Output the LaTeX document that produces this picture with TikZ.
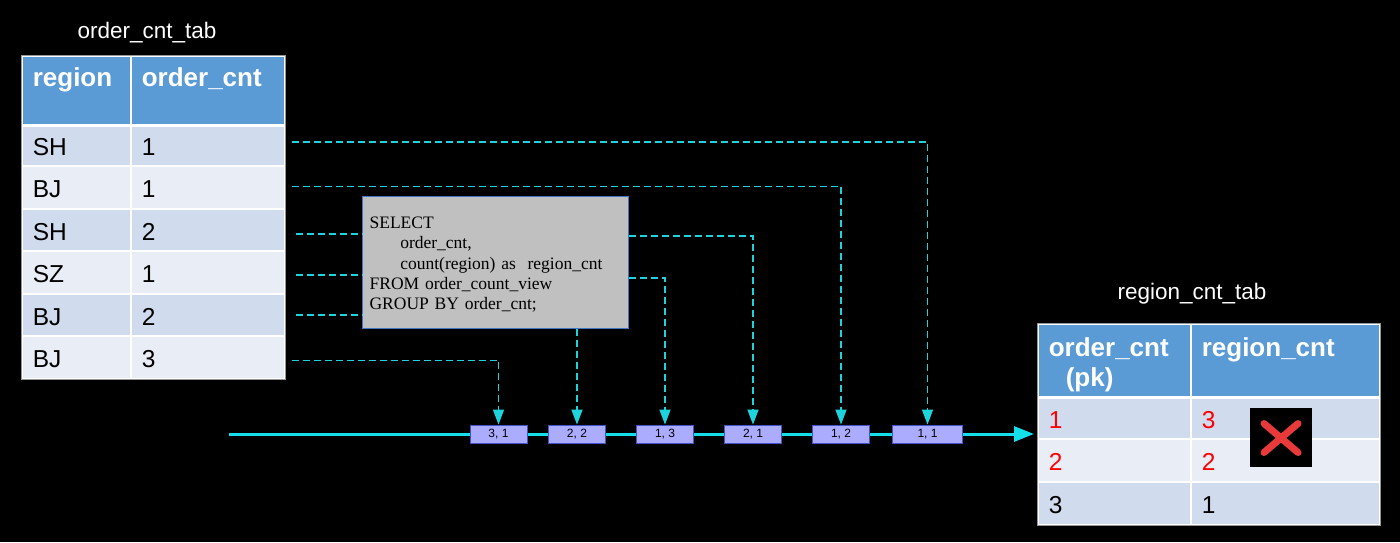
\documentclass[tikz,border=0pt]{standalone}
\usepackage{fontspec}
\setmainfont{Liberation Sans}
\newfontfamily\sqlfont{Liberation Serif}
\usetikzlibrary{arrows.meta,calc}
\definecolor{hdrblue}{RGB}{91,155,213}
\definecolor{rowdark}{RGB}{208,220,238}
\definecolor{rowlight}{RGB}{233,237,246}
\definecolor{flowcyan}{RGB}{20,222,232}
\definecolor{dashcyan}{RGB}{30,212,220}
\definecolor{sqlgray}{RGB}{192,192,192}
\definecolor{sqlborder}{RGB}{68,114,196}
\definecolor{evfill}{RGB}{172,172,255}
\definecolor{evborder}{RGB}{70,80,200}
\definecolor{crossred}{RGB}{232,58,58}
\definecolor{tabborder}{RGB}{150,150,150}
\tikzset{
  cellbase/.style={draw=white, line width=1.6pt, inner sep=0pt, inner xsep=11pt, anchor=north west, align=left},
  hdrcell/.style={cellbase, fill=hdrblue, text=white, font=\fontsize{26}{30}\selectfont\bfseries, text height=20pt, text depth=27pt},
  darkcell/.style={cellbase, fill=rowdark, font=\fontsize{24.5}{28}\selectfont, text height=21pt, text depth=0pt},
  lightcell/.style={cellbase, fill=rowlight, font=\fontsize{24.5}{28}\selectfont, text height=21pt, text depth=0pt},
  tabtitle/.style={text=white, font=\fontsize{22.5}{26}\selectfont, anchor=base, inner sep=0pt},
  tabframe/.style={draw=tabborder, line width=0.8pt},
  sqlbox/.style={draw=sqlborder, fill=sqlgray, line width=1.2pt, anchor=north west, minimum width=266pt, minimum height=132pt, inner sep=0pt, inner xsep=7pt, text width=252pt, align=left, font=\sqlfont\fontsize{17.5}{20.3}\selectfont, text height=12pt, text depth=80pt},
  evbox/.style={draw=evborder, fill=evfill, line width=0.9pt, minimum height=18pt, inner sep=0pt, font=\fontsize{12}{14}\selectfont},
  dline/.style={draw=dashcyan, line width=1.4pt, dash pattern=on 7pt off 4pt},
  dlinearrow/.style={dline, -{Triangle[length=15pt,width=11pt]}},
  mainflow/.style={draw=flowcyan, line width=3pt, -{Triangle[length=20pt,width=15pt]}},
  crossbg/.style={fill=black, minimum width=62pt, minimum height=59pt, inner sep=0pt},
  redx/.style={draw=crossred, line width=7pt, line cap=round},
}
\begin{document}
\begin{tikzpicture}[x=1pt,y=-1pt]
\useasboundingbox (0,0) rectangle (1400,542);
\fill[black] (0,0) rectangle (1400,542);

% ---------------- left table ----------------
\node[tabtitle] (ltitle) at (147,38) {order\_cnt\_tab};
\node[hdrcell, minimum width=109pt, minimum height=69pt, text width=87pt] (lh1) at (21,55) {region};
\node[hdrcell, minimum width=154pt, minimum height=69pt, text width=132pt] (lh2) at (130,55) {order\_cnt};
\node[darkcell, minimum width=109pt, minimum height=41pt, text width=87pt] (r1c1) at (21,124) {SH};
\node[darkcell, minimum width=154pt, minimum height=41pt, text width=132pt] (r1c2) at (130,124) {1};
\node[lightcell, minimum width=109pt, minimum height=43pt, text width=87pt] (r2c1) at (21,165) {BJ};
\node[lightcell, minimum width=154pt, minimum height=43pt, text width=132pt] (r2c2) at (130,165) {1};
\node[darkcell, minimum width=109pt, minimum height=42pt, text width=87pt] (r3c1) at (21,208) {SH};
\node[darkcell, minimum width=154pt, minimum height=42pt, text width=132pt] (r3c2) at (130,208) {2};
\node[lightcell, minimum width=109pt, minimum height=43pt, text width=87pt] (r4c1) at (21,250) {SZ};
\node[lightcell, minimum width=154pt, minimum height=43pt, text width=132pt] (r4c2) at (130,250) {1};
\node[darkcell, minimum width=109pt, minimum height=42pt, text width=87pt] (r5c1) at (21,293) {BJ};
\node[darkcell, minimum width=154pt, minimum height=42pt, text width=132pt] (r5c2) at (130,293) {2};
\node[lightcell, minimum width=109pt, minimum height=43pt, text width=87pt] (r6c1) at (21,335) {BJ};
\node[lightcell, minimum width=154pt, minimum height=43pt, text width=132pt] (r6c2) at (130,335) {3};
\draw[white, line width=3pt] (lh1.south west) -- (lh2.south east);
\draw[tabframe] (lh1.north west) rectangle (r6c2.south east);

% ---------------- SQL box ----------------
\node[sqlbox] (sql) at (362,196) {SELECT\\
\hspace*{30.7pt}order\_cnt,\\
\hspace*{30.7pt}count(region) as\ \ region\_cnt\\
FROM order\_count\_view\\
GROUP BY order\_cnt;};

% ---------------- stream ----------------
\coordinate (flowstart) at (229,434);
\coordinate (flowend) at (1034,434);
\draw[mainflow] (flowstart) -- (flowend);
\node[evbox, minimum width=57pt] (s31) at (498.5,434) {3, 1};
\node[evbox, minimum width=57pt] (s22) at (577,434) {2, 2};
\node[evbox, minimum width=57pt] (s13) at (665,434) {1, 3};
\node[evbox, minimum width=57pt] (s21) at (753,434) {2, 1};
\node[evbox, minimum width=57pt] (s12) at (841,434) {1, 2};
\node[evbox, minimum width=70pt] (s11) at (927.5,434) {1, 1};

% ---------------- dashed connectors ----------------
\coordinate (a1) at ([xshift=6pt,yshift=3.5pt]r1c2.east);
\coordinate (a2) at ([xshift=6pt,yshift=1pt]r2c2.east);
\coordinate (a3) at ([xshift=10pt,yshift=-4pt]r3c2.east);
\coordinate (a4) at ([xshift=10pt,yshift=-2.5pt]r4c2.east);
\coordinate (a5) at ([xshift=10pt,yshift=0pt]r5c2.east);
\coordinate (a6) at ([xshift=6pt,yshift=-3pt]r6c2.east);
\coordinate (b3) at ([yshift=-2pt]a3 -| sql.east);
\coordinate (b4) at ([yshift=-3pt]a4 -| sql.east);

\draw[dlinearrow] (a1) -| (s11.north);
\draw[dlinearrow] (a2) -| (s12.north);
\draw[dline] (a3) -- (a3 -| sql.west);
\draw[dline] (a4) -- (a4 -| sql.west);
\draw[dline] (a5) -- (a5 -| sql.west);
\draw[dlinearrow] (b3) -| (s21.north);
\draw[dlinearrow] (b4) -| (s13.north);
\draw[dlinearrow] (s22.north |- sql.south) -- (s22.north);
\draw[dlinearrow] (a6) -| (s31.north);

% ---------------- right table ----------------
\node[tabtitle] (rtitle) at (1192,299) {region\_cnt\_tab};
\node[hdrcell, minimum width=153pt, minimum height=73pt, text width=131pt] (rh1) at (1037,323) {order\_cnt\\\hspace*{17pt}(pk)};
\node[hdrcell, minimum width=189pt, minimum height=73pt, text width=167pt] (rh2) at (1190,323) {region\_cnt};
\node[darkcell, minimum width=153pt, minimum height=42pt, text width=131pt, text=red] (q1c1) at (1037,396) {1};
\node[darkcell, minimum width=189pt, minimum height=42pt, text width=167pt, text=red] (q1c2) at (1190,396) {3};
\node[lightcell, minimum width=153pt, minimum height=43pt, text width=131pt, text=red] (q2c1) at (1037,438) {2};
\node[lightcell, minimum width=189pt, minimum height=43pt, text width=167pt, text=red] (q2c2) at (1190,438) {2};
\node[darkcell, minimum width=153pt, minimum height=43pt, text width=131pt] (q3c1) at (1037,481) {3};
\node[darkcell, minimum width=189pt, minimum height=43pt, text width=167pt] (q3c2) at (1190,481) {1};
\draw[white, line width=3pt] (rh1.south west) -- (rh2.south east);
\draw[tabframe] (rh1.north west) rectangle (q3c2.south east);

% ---------------- cross mark ----------------
\node[crossbg] (xmark) at (1281,437.5) {};
\draw[redx] ($(xmark.center)+(-17,-14)$) -- ($(xmark.center)+(17,15)$);
\draw[redx] ($(xmark.center)+(17,-14)$) -- ($(xmark.center)+(-17,15)$);
\end{tikzpicture}
\end{document}
